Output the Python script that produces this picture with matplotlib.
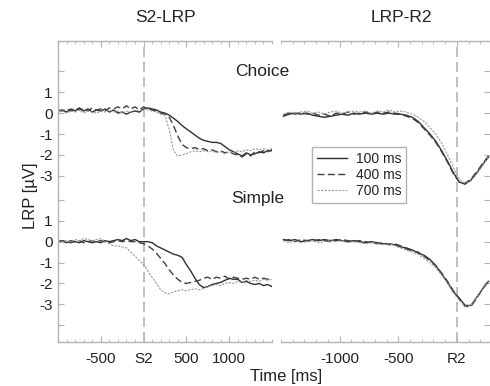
import numpy as np
import matplotlib
matplotlib.use("Agg")
import matplotlib.pyplot as plt
from matplotlib.ticker import FixedLocator, MultipleLocator

plt.rcParams['font.family'] = ['Liberation Sans', 'DejaVu Sans']

# vertical offset used to stack the Choice traces above the Simple traces
CHOICE_OFFSET = 6.15

# ---- S2-locked (left panel), time in ms ----
t_s2 = np.arange(-1000, 1501, 50)

s2_choice_100 = [0.10, 0.15, 0.05, 0.20, 0.10, 0.25, 0.10, 0.20, 0.05, 0.15,
                 0.10, 0.20, 0.05, 0.15, 0.00, 0.05, -0.05, 0.05, 0.10, 0.05,
                 0.20, 0.25, 0.20, 0.15, 0.05, 0.00, -0.10, -0.25, -0.40, -0.60,
                 -0.75, -0.90, -1.05, -1.20, -1.30, -1.35, -1.40, -1.40, -1.45, -1.60,
                 -1.75, -1.85, -1.95, -2.05, -1.90, -2.00, -1.95, -1.85, -1.90, -1.80,
                 -1.80]
s2_choice_400 = [0.15, 0.10, 0.20, 0.10, 0.25, 0.15, 0.20, 0.10, 0.25, 0.15,
                 0.20, 0.10, 0.25, 0.20, 0.30, 0.20, 0.35, 0.20, 0.30, 0.15,
                 0.30, 0.20, 0.15, 0.10, 0.00, -0.05, -0.20, -0.60, -1.10, -1.50,
                 -1.65, -1.70, -1.65, -1.75, -1.70, -1.80, -1.75, -1.85, -1.80, -1.90,
                 -1.85, -1.95, -2.00, -2.10, -1.95, -2.05, -1.85, -1.90, -1.80, -1.85,
                 -1.75]
s2_choice_700 = [0.05, 0.10, 0.00, 0.10, 0.05, 0.15, 0.00, 0.10, 0.05, 0.00,
                 0.10, 0.05, 0.15, 0.05, 0.10, 0.00, 0.10, 0.05, 0.15, 0.10,
                 0.20, 0.15, 0.10, 0.05, -0.05, -0.10, -0.80, -1.80, -2.05, -2.00,
                 -1.95, -1.85, -1.80, -1.85, -1.80, -1.85, -1.80, -1.90, -1.85, -1.95,
                 -1.85, -1.90, -1.80, -1.85, -1.75, -1.80, -1.70, -1.75, -1.70, -1.75,
                 -1.70]

s2_simple_100 = [0.00, 0.05, -0.05, 0.05, 0.00, -0.05, 0.05, 0.00, -0.05, 0.00,
                 -0.05, 0.05, 0.00, 0.05, 0.10, 0.05, 0.15, 0.05, 0.10, 0.00,
                 0.00, 0.00, -0.05, -0.20, -0.30, -0.40, -0.50, -0.60, -0.65, -0.75,
                 -1.10, -1.40, -1.75, -2.05, -2.20, -2.15, -2.05, -2.00, -1.95, -1.85,
                 -1.75, -1.80, -1.80, -1.95, -1.90, -2.00, -2.05, -2.00, -2.10, -2.05,
                 -2.15]
s2_simple_400 = [0.00, 0.05, 0.00, -0.05, 0.00, 0.05, -0.05, 0.00, 0.05, 0.00,
                 0.05, 0.00, -0.05, 0.00, 0.05, 0.00, 0.05, 0.00, 0.00, -0.05,
                 -0.10, -0.20, -0.35, -0.55, -0.80, -1.05, -1.35, -1.60, -1.80, -1.95,
                 -2.00, -1.95, -1.90, -1.85, -1.75, -1.70, -1.80, -1.70, -1.75, -1.65,
                 -1.80, -1.70, -1.75, -1.80, -1.75, -1.80, -1.70, -1.80, -1.75, -1.80,
                 -1.75]
s2_simple_700 = [0.05, 0.00, 0.05, 0.00, 0.10, 0.05, 0.15, 0.10, 0.05, 0.10,
                 0.15, 0.00, -0.10, -0.20, -0.20, -0.25, -0.30, -0.50, -0.70, -0.90,
                 -1.10, -1.40, -1.70, -2.00, -2.30, -2.45, -2.50, -2.40, -2.35, -2.30,
                 -2.35, -2.30, -2.25, -2.30, -2.25, -2.15, -2.10, -2.05, -2.10, -2.00,
                 -1.95, -2.00, -1.90, -1.95, -1.85, -1.90, -1.85, -1.90, -1.80, -1.85,
                 -1.80]

# ---- R2-locked (right panel), time in ms ----
t_r2 = np.arange(-1480, 271, 50)

r2_choice_100 = [-0.15, -0.05, 0.00, -0.05, 0.00, -0.10, -0.15, -0.20, -0.15, -0.10,
                 -0.05, -0.10, 0.00, -0.05, 0.00, -0.05, 0.00, -0.05, 0.00, -0.05,
                 -0.05, -0.10, -0.20, -0.40, -0.70, -1.00, -1.35, -1.80, -2.30, -2.85,
                 -3.30, -3.40, -3.20, -2.85, -2.45, -2.10]
r2_choice_400 = [-0.10, 0.00, -0.05, 0.05, -0.05, 0.00, -0.10, -0.05, -0.15, 0.00,
                 -0.05, 0.05, -0.05, 0.00, 0.05, -0.05, 0.05, 0.00, 0.05, 0.00,
                 -0.05, -0.15, -0.25, -0.45, -0.75, -1.05, -1.40, -1.85, -2.35, -2.90,
                 -3.30, -3.35, -3.15, -2.80, -2.40, -2.05]
r2_choice_700 = [-0.05, 0.05, 0.00, 0.05, 0.10, 0.00, 0.05, -0.05, 0.05, 0.10,
                 0.00, 0.05, 0.10, 0.05, 0.10, 0.00, 0.10, 0.05, 0.15, 0.05,
                 0.10, 0.05, -0.05, -0.20, -0.40, -0.70, -1.00, -1.45, -2.00, -2.60,
                 -3.15, -3.35, -3.25, -2.90, -2.50, -2.10]

r2_simple_100 = [0.10, 0.05, 0.10, 0.00, 0.05, 0.10, 0.05, 0.10, 0.05, 0.10,
                 0.05, 0.00, 0.05, 0.00, -0.05, 0.00, -0.05, -0.10, -0.10, -0.15,
                 -0.25, -0.30, -0.40, -0.55, -0.65, -0.85, -1.15, -1.55, -1.95, -2.40,
                 -2.70, -3.05, -3.05, -2.65, -2.25, -1.90]
r2_simple_400 = [0.05, 0.10, 0.00, 0.10, 0.05, 0.00, 0.10, 0.05, 0.00, 0.05,
                 0.10, 0.05, 0.00, 0.05, 0.00, -0.05, -0.10, -0.05, -0.15, -0.10,
                 -0.20, -0.35, -0.45, -0.50, -0.70, -0.90, -1.15, -1.50, -1.90, -2.35,
                 -2.75, -3.10, -3.10, -2.70, -2.25, -1.85]
r2_simple_700 = [0.05, -0.05, 0.05, -0.05, 0.00, 0.05, -0.05, 0.00, 0.05, 0.00,
                 0.05, -0.05, 0.00, -0.05, -0.10, -0.05, -0.10, -0.15, -0.10, -0.20,
                 -0.30, -0.40, -0.50, -0.60, -0.80, -1.00, -1.25, -1.60, -2.00, -2.45,
                 -2.80, -3.10, -3.05, -2.65, -2.20, -1.85]

soa_labels = ['100 ms', '400 ms', '700 ms']
ytick_raw = [2, 1, 0, -1, -2, -3]

GRAY = '#b4b4b4'
TXT = '#222222'
styles = [dict(color='#303030', lw=1.0, ls='-'),
          dict(color='#404040', lw=1.0, ls=(0, (5, 2.5))),
          dict(color='#9a9a9a', lw=0.8, ls=(0, (2, 1.2)))]

fig = plt.figure(figsize=(4.9, 3.86), dpi=100)
bottom, top = 1 - 342 / 386, 1 - 41 / 386
ax1 = fig.add_axes([58 / 490, bottom, 214 / 490, top - bottom])
ax2 = fig.add_axes([281 / 490, bottom, 209 / 490, top - bottom])

for i, (c, s) in enumerate(zip([s2_choice_100, s2_choice_400, s2_choice_700],
                               [s2_simple_100, s2_simple_400, s2_simple_700])):
    ax1.plot(t_s2, np.array(c) + CHOICE_OFFSET, **styles[i])
    ax1.plot(t_s2, s, **styles[i])

handles = []
for i, (c, s) in enumerate(zip([r2_choice_100, r2_choice_400, r2_choice_700],
                               [r2_simple_100, r2_simple_400, r2_simple_700])):
    h, = ax2.plot(t_r2, np.array(c) + CHOICE_OFFSET, label=soa_labels[i], **styles[i])
    ax2.plot(t_r2, s, **styles[i])
    handles.append(h)

# y ticks: two stacked scales
yt = [v + CHOICE_OFFSET for v in ytick_raw] + ytick_raw + [-4]
ylab = ['', '1', '0', '-1', '-2', '-3'] + ['', '1', '0', '-1', '-2', '-3', '']

for ax in (ax1, ax2):
    ax.set_ylim(-4.8, 9.6)
    ax.axvline(0, color=GRAY, lw=1.2, ls=(0, (6, 3)), zorder=0)
    ax.xaxis.set_minor_locator(MultipleLocator(100))
    ax.tick_params(which='both', direction='in', colors=GRAY, labelcolor=TXT,
                   labelsize=11, top=True)
    ax.tick_params(which='major', length=4)
    ax.tick_params(which='minor', length=2.5)
    ax.tick_params(axis='x', pad=7)
    for sp in ax.spines.values():
        sp.set_color(GRAY)
        sp.set_linewidth(1.0)

ax1.set_xlim(-1000, 1500)
ax1.set_xticks([-500, 0, 500, 1000])
ax1.set_xticklabels(['-500', 'S2', '500', '1000'])
ax1.yaxis.set_major_locator(FixedLocator(yt))
ax1.set_yticklabels(ylab)
ax1.tick_params(axis='y', pad=4)
ax1.spines['right'].set_visible(False)

ax2.set_xlim(-1500, 282)
ax2.set_xticks([-1000, -500, 0])
ax2.set_xticklabels(['-1000', '-500', 'R2'])
ax2.yaxis.set_major_locator(FixedLocator(yt))
ax2.yaxis.tick_right()
ax2.tick_params(axis='y', labelright=False, right=True, left=False)
ax2.spines['left'].set_visible(False)
ax2.spines['right'].set_visible(False)

leg = ax2.legend(handles=handles, loc='upper left', bbox_to_anchor=(0.148, 0.648),
                 borderaxespad=0, fontsize=10, handlelength=2.2, labelspacing=0.15,
                 fancybox=False, framealpha=1, borderpad=0.35, handletextpad=0.6)
leg.get_frame().set_edgecolor(GRAY)
leg.get_frame().set_linewidth(1.0)
for txt in leg.get_texts():
    txt.set_color(TXT)

fig.text(165 / 490, 1 - 18 / 386, 'S2-LRP', ha='center', va='center', fontsize=12.5, color=TXT)
fig.text(401 / 490, 1 - 18 / 386, 'LRP-R2', ha='center', va='center', fontsize=12.5, color=TXT)
fig.text(262 / 490, 1 - 71 / 386, 'Choice', ha='center', va='center', fontsize=12.5, color=TXT)
fig.text(258 / 490, 1 - 198 / 386, 'Simple', ha='center', va='center', fontsize=12.5, color=TXT)
fig.text(31 / 490, 1 - 196 / 386, 'LRP [µV]', ha='center', va='center', rotation=90,
         fontsize=12, color=TXT)
fig.text(286 / 490, 1 - 376 / 386, 'Time [ms]', ha='center', va='center', fontsize=12, color=TXT)

fig.savefig('out.png', dpi=100)
